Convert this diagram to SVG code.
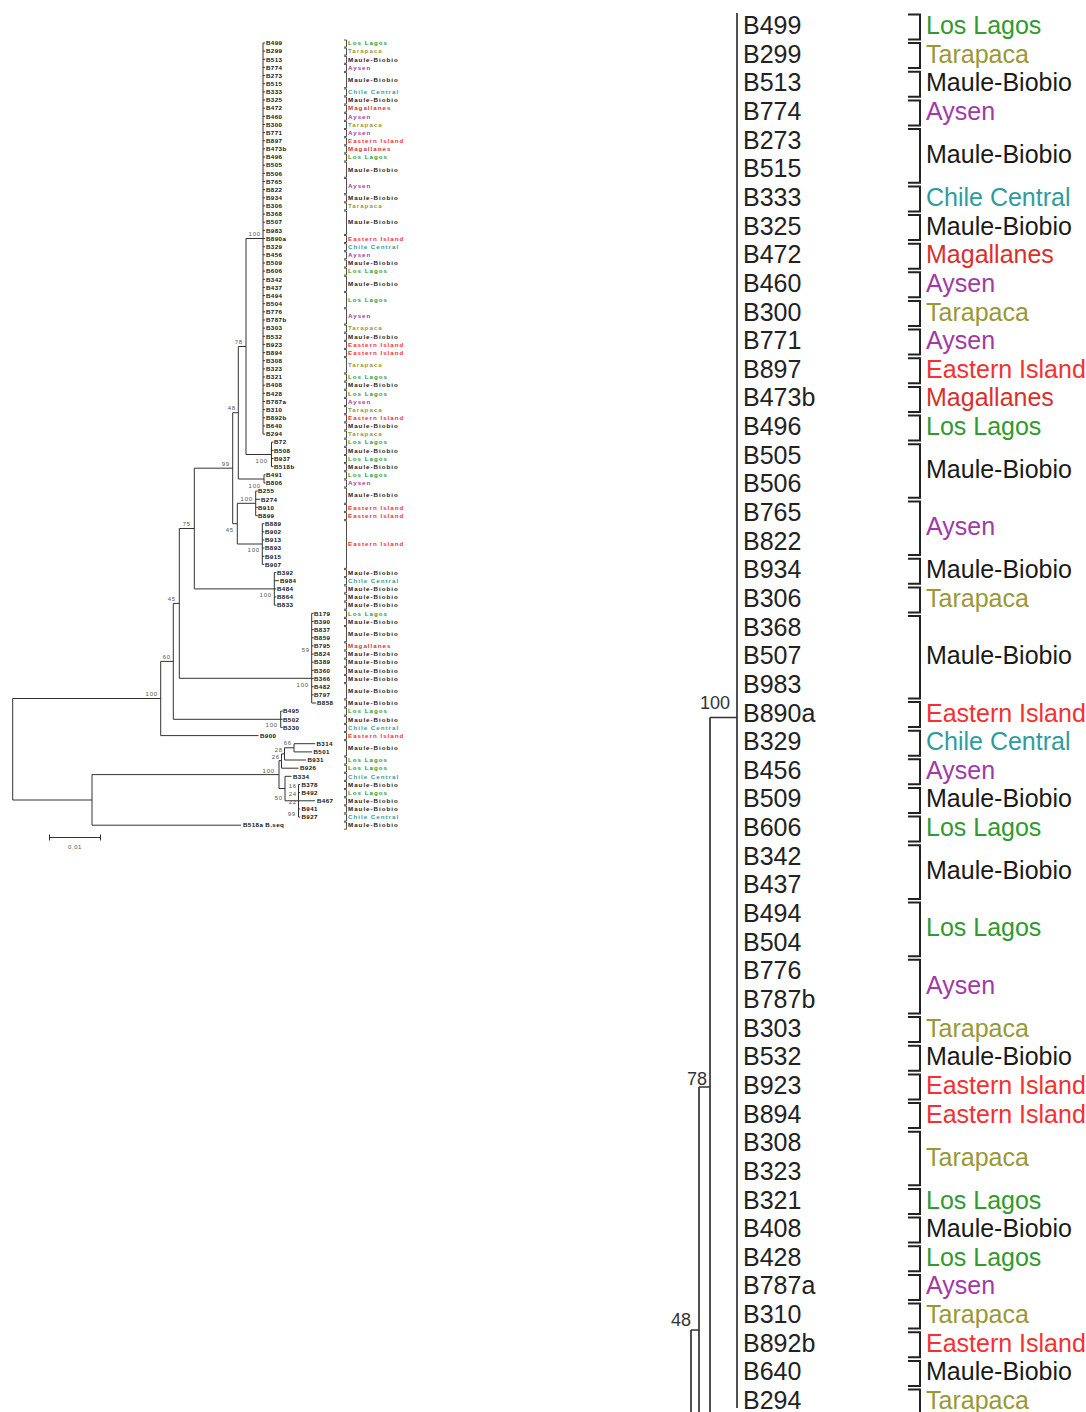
<svg xmlns="http://www.w3.org/2000/svg" width="1086" height="1412" viewBox="0 0 1086 1412">
<style>
text{font-family:"Liberation Sans",Arial,sans-serif}
.lt{font-size:6.2px;font-weight:bold;fill:#111;letter-spacing:.4px}
.lr{font-size:6.2px;font-weight:bold;letter-spacing:1px}
.bs{font-size:6px;fill:#555;letter-spacing:.8px;text-anchor:end}
.rt{font-size:25px;fill:#222}
.rr{font-size:25px}
.rb{font-size:18px;fill:#333;text-anchor:end}
.ln{stroke:#333;stroke-width:1;fill:none}
.lnR{stroke:#333;stroke-width:1.7;fill:none}
.bk{stroke:#222;stroke-width:.8;fill:none}
.bkR{stroke:#222;stroke-width:2;fill:none}
.LL{fill:#2f9a2f}.TA{fill:#999933}.MB{fill:#1a1a1a}.AY{fill:#a23aa6}.CC{fill:#2f9c9c}.MG{fill:#d9302c}.EI{fill:#f43030}
</style>
<rect width="1086" height="1412" fill="#fff"/>
<g id="connectors">
<path class="ln" d="M263,43V434.1M263,43h2M263,51.1h2M263,59.3h2M263,67.4h2M263,75.6h2M263,83.7h2M263,91.9h2M263,100h2M263,108.2h2M263,116.3h2M263,124.5h2M263,132.6h2M263,140.8h2M263,148.9h2M263,157h2M263,165.2h2M263,173.3h2M263,181.5h2M263,189.6h2M263,197.8h2M263,205.9h2M263,214.1h2M263,222.2h2M263,230.4h2M263,238.5h2M263,246.7h2M263,254.8h2M263,263h2M263,271.1h2M263,279.3h2M263,287.4h2M263,295.6h2M263,303.7h2M263,311.8h2M263,320h2M263,328.1h2M263,336.3h2M263,344.4h2M263,352.6h2M263,360.7h2M263,368.9h2M263,377h2M263,385.2h2M263,393.3h2M263,401.5h2M263,409.6h2M263,417.8h2M263,425.9h2M263,434.1h2
M246,238.5H263M246,454.5H271.5M246,238.5V454.5
M271.5,442.2V466.7M271.5,442.2h2M271.5,450.4h2M271.5,458.5h2M271.5,466.7h2
M238.3,346.5H246M238.3,479H264M238.3,346.5V479
M264,474.8V483M264,474.8h1.5M264,483h1.5
M232.7,412.7H238.3M232.7,523.7H237.3M232.7,412.7V523.7
M237.3,503.3H255.7M237.3,544H262.3M237.3,503.3V544
M255.7,491.1V515.6M255.7,491.1h2M255.7,499.3h4.5M255.7,507.4h2M255.7,515.6h2
M262.3,523.7V564.4M262.3,523.7h2M262.3,531.9h2M262.3,540h2M262.3,548.1h2M262.3,556.3h2M262.3,564.4h2
M194.3,468.2H232.7M194.3,588.9H274.3M194.3,468.2V588.9
M274.3,572.6V605.2M274.3,572.6h2M274.3,580.7h4.5M274.3,588.9h2M274.3,597h2M274.3,605.2h2
M179.3,528.5H194.3M179.3,678.3H311.7M179.3,528.5V678.3
M311.7,613.3V703M311.7,613.3h2M311.7,621.5h2M311.7,629.6h2M311.7,637.8h2M311.7,645.9h2M311.7,654.1h2M311.7,662.2h2M311.7,670.4h2M311.7,678.5h2M311.7,686.7h2M311.7,694.8h2M311.7,703h4.5
M173.3,603.4H179.3M173.3,719.3H280.7M173.3,603.4V719.3
M280.7,711.1V727.4M280.7,711.1h2M280.7,719.3h2M280.7,727.4h2
M160.7,661.4H173.3M160.7,735.6H258.5M160.7,661.4V735.6
M12.7,698.5H160.7M12.7,800H92M12.7,698.5V800
M92,774.6H279M92,825.2H241M92,774.6V825.2
M279,760.6H281.5M279,788.5H285M279,760.6V788.5
M281.5,753.9H284.5M281.5,768.2H298.5M281.5,753.9V768.2
M284.5,747.8H294M284.5,760H306M284.5,747.8V760
M294,743.7H315M294,751.9H312M294,743.7V751.9
M285,776.3H291.5M285,800.8H298.5M285,776.3V800.8
M298.5,784.5V817.1M298.5,784.5H300M298.5,792.6H300M298.5,800.8H315M298.5,808.9H300M298.5,817.1H300"/>
<path class="lnR" d="M737,13V1408M710,717.5H737M710,717.5V1412M699,1087H710M699,1087V1412M691,1330H699M691,1330V1412"/>
</g>
<g id="scale-bar">
<path class="ln" d="M49.5,837.5H100.5M49.5,834.5V840.5M100.5,834.5V840.5"/>
<text x="75" y="848.5" font-size="6px" fill="#555" text-anchor="middle" letter-spacing=".6">0,01</text>
</g>
<g id="bootstrap">
<text class="bs" x="261" y="236">100</text>
<text class="bs" x="243" y="344">78</text>
<text class="bs" x="236" y="410">48</text>
<text class="bs" x="230" y="466">99</text>
<text class="bs" x="234" y="532">45</text>
<text class="bs" x="268" y="463">100</text>
<text class="bs" x="261" y="488">100</text>
<text class="bs" x="253" y="500.5">100</text>
<text class="bs" x="260" y="551.5">100</text>
<text class="bs" x="191" y="526">75</text>
<text class="bs" x="272" y="597">100</text>
<text class="bs" x="176" y="601">45</text>
<text class="bs" x="171" y="658.5">60</text>
<text class="bs" x="310" y="651.5">59</text>
<text class="bs" x="309" y="686.5">100</text>
<text class="bs" x="158" y="696">100</text>
<text class="bs" x="278" y="727">100</text>
<text class="bs" x="275" y="772.5">100</text>
<text class="bs" x="292" y="745">66</text>
<text class="bs" x="283" y="751.5">28</text>
<text class="bs" x="280" y="758.5">26</text>
<text class="bs" x="283" y="799.5">50</text>
<text class="bs" x="297" y="787.5">16</text>
<text class="bs" x="297" y="796">24</text>
<text class="bs" x="297" y="804">22</text>
<text class="bs" x="296" y="816">99</text>
<text class="rb" x="730" y="709">100</text>
<text class="rb" x="707" y="1085">78</text>
<text class="rb" x="691" y="1326">48</text>
</g>
<g id="leaves">
<g id="n-B499"><text class="lt" x="266" y="45.2">B499</text><text class="rt" x="743" y="34">B499</text></g>
<g id="n-B299"><text class="lt" x="266" y="53.3">B299</text><text class="rt" x="743" y="62.6">B299</text></g>
<g id="n-B513"><text class="lt" x="266" y="61.5">B513</text><text class="rt" x="743" y="91.3">B513</text></g>
<g id="n-B774"><text class="lt" x="266" y="69.6">B774</text><text class="rt" x="743" y="119.9">B774</text></g>
<g id="n-B273"><text class="lt" x="266" y="77.8">B273</text><text class="rt" x="743" y="148.6">B273</text></g>
<g id="n-B515"><text class="lt" x="266" y="85.9">B515</text><text class="rt" x="743" y="177.2">B515</text></g>
<g id="n-B333"><text class="lt" x="266" y="94.1">B333</text><text class="rt" x="743" y="205.9">B333</text></g>
<g id="n-B325"><text class="lt" x="266" y="102.2">B325</text><text class="rt" x="743" y="234.5">B325</text></g>
<g id="n-B472"><text class="lt" x="266" y="110.4">B472</text><text class="rt" x="743" y="263.2">B472</text></g>
<g id="n-B460"><text class="lt" x="266" y="118.5">B460</text><text class="rt" x="743" y="291.8">B460</text></g>
<g id="n-B300"><text class="lt" x="266" y="126.7">B300</text><text class="rt" x="743" y="320.5">B300</text></g>
<g id="n-B771"><text class="lt" x="266" y="134.8">B771</text><text class="rt" x="743" y="349.1">B771</text></g>
<g id="n-B897"><text class="lt" x="266" y="143">B897</text><text class="rt" x="743" y="377.8">B897</text></g>
<g id="n-B473b"><text class="lt" x="266" y="151.1">B473b</text><text class="rt" x="743" y="406.4">B473b</text></g>
<g id="n-B496"><text class="lt" x="266" y="159.2">B496</text><text class="rt" x="743" y="435">B496</text></g>
<g id="n-B505"><text class="lt" x="266" y="167.4">B505</text><text class="rt" x="743" y="463.7">B505</text></g>
<g id="n-B506"><text class="lt" x="266" y="175.5">B506</text><text class="rt" x="743" y="492.3">B506</text></g>
<g id="n-B765"><text class="lt" x="266" y="183.7">B765</text><text class="rt" x="743" y="521">B765</text></g>
<g id="n-B822"><text class="lt" x="266" y="191.8">B822</text><text class="rt" x="743" y="549.6">B822</text></g>
<g id="n-B934"><text class="lt" x="266" y="200">B934</text><text class="rt" x="743" y="578.3">B934</text></g>
<g id="n-B306"><text class="lt" x="266" y="208.1">B306</text><text class="rt" x="743" y="606.9">B306</text></g>
<g id="n-B368"><text class="lt" x="266" y="216.3">B368</text><text class="rt" x="743" y="635.6">B368</text></g>
<g id="n-B507"><text class="lt" x="266" y="224.4">B507</text><text class="rt" x="743" y="664.2">B507</text></g>
<g id="n-B983"><text class="lt" x="266" y="232.6">B983</text><text class="rt" x="743" y="692.9">B983</text></g>
<g id="n-B890a"><text class="lt" x="266" y="240.7">B890a</text><text class="rt" x="743" y="721.5">B890a</text></g>
<g id="n-B329"><text class="lt" x="266" y="248.9">B329</text><text class="rt" x="743" y="750.2">B329</text></g>
<g id="n-B456"><text class="lt" x="266" y="257">B456</text><text class="rt" x="743" y="778.8">B456</text></g>
<g id="n-B509"><text class="lt" x="266" y="265.2">B509</text><text class="rt" x="743" y="807.4">B509</text></g>
<g id="n-B606"><text class="lt" x="266" y="273.3">B606</text><text class="rt" x="743" y="836.1">B606</text></g>
<g id="n-B342"><text class="lt" x="266" y="281.5">B342</text><text class="rt" x="743" y="864.7">B342</text></g>
<g id="n-B437"><text class="lt" x="266" y="289.6">B437</text><text class="rt" x="743" y="893.4">B437</text></g>
<g id="n-B494"><text class="lt" x="266" y="297.8">B494</text><text class="rt" x="743" y="922">B494</text></g>
<g id="n-B504"><text class="lt" x="266" y="305.9">B504</text><text class="rt" x="743" y="950.7">B504</text></g>
<g id="n-B776"><text class="lt" x="266" y="314">B776</text><text class="rt" x="743" y="979.3">B776</text></g>
<g id="n-B787b"><text class="lt" x="266" y="322.2">B787b</text><text class="rt" x="743" y="1008">B787b</text></g>
<g id="n-B303"><text class="lt" x="266" y="330.3">B303</text><text class="rt" x="743" y="1036.6">B303</text></g>
<g id="n-B532"><text class="lt" x="266" y="338.5">B532</text><text class="rt" x="743" y="1065.3">B532</text></g>
<g id="n-B923"><text class="lt" x="266" y="346.6">B923</text><text class="rt" x="743" y="1093.9">B923</text></g>
<g id="n-B894"><text class="lt" x="266" y="354.8">B894</text><text class="rt" x="743" y="1122.5">B894</text></g>
<g id="n-B308"><text class="lt" x="266" y="362.9">B308</text><text class="rt" x="743" y="1151.2">B308</text></g>
<g id="n-B323"><text class="lt" x="266" y="371.1">B323</text><text class="rt" x="743" y="1179.8">B323</text></g>
<g id="n-B321"><text class="lt" x="266" y="379.2">B321</text><text class="rt" x="743" y="1208.5">B321</text></g>
<g id="n-B408"><text class="lt" x="266" y="387.4">B408</text><text class="rt" x="743" y="1237.1">B408</text></g>
<g id="n-B428"><text class="lt" x="266" y="395.5">B428</text><text class="rt" x="743" y="1265.8">B428</text></g>
<g id="n-B787a"><text class="lt" x="266" y="403.7">B787a</text><text class="rt" x="743" y="1294.4">B787a</text></g>
<g id="n-B310"><text class="lt" x="266" y="411.8">B310</text><text class="rt" x="743" y="1323.1">B310</text></g>
<g id="n-B892b"><text class="lt" x="266" y="420">B892b</text><text class="rt" x="743" y="1351.7">B892b</text></g>
<g id="n-B640"><text class="lt" x="266" y="428.1">B640</text><text class="rt" x="743" y="1380.4">B640</text></g>
<g id="n-B294"><text class="lt" x="266" y="436.3">B294</text><text class="rt" x="743" y="1409">B294</text></g>
<g id="n-B72"><text class="lt" x="274" y="444.4">B72</text></g>
<g id="n-B508"><text class="lt" x="274" y="452.6">B508</text></g>
<g id="n-B937"><text class="lt" x="274" y="460.7">B937</text></g>
<g id="n-B518b"><text class="lt" x="274" y="468.9">B518b</text></g>
<g id="n-B491"><text class="lt" x="266" y="477">B491</text></g>
<g id="n-B806"><text class="lt" x="266" y="485.2">B806</text></g>
<g id="n-B255"><text class="lt" x="258" y="493.3">B255</text></g>
<g id="n-B274"><text class="lt" x="261" y="501.5">B274</text></g>
<g id="n-B910"><text class="lt" x="258" y="509.6">B910</text></g>
<g id="n-B899"><text class="lt" x="258" y="517.8">B899</text></g>
<g id="n-B889"><text class="lt" x="265" y="525.9">B889</text></g>
<g id="n-B902"><text class="lt" x="265" y="534.1">B902</text></g>
<g id="n-B913"><text class="lt" x="265" y="542.2">B913</text></g>
<g id="n-B893"><text class="lt" x="265" y="550.3">B893</text></g>
<g id="n-B915"><text class="lt" x="265" y="558.5">B915</text></g>
<g id="n-B907"><text class="lt" x="265" y="566.6">B907</text></g>
<g id="n-B392"><text class="lt" x="277" y="574.8">B392</text></g>
<g id="n-B984"><text class="lt" x="280" y="582.9">B984</text></g>
<g id="n-B484"><text class="lt" x="277" y="591.1">B484</text></g>
<g id="n-B864"><text class="lt" x="277" y="599.2">B864</text></g>
<g id="n-B833"><text class="lt" x="277" y="607.4">B833</text></g>
<g id="n-B179"><text class="lt" x="314" y="615.5">B179</text></g>
<g id="n-B390"><text class="lt" x="314" y="623.7">B390</text></g>
<g id="n-B837"><text class="lt" x="314" y="631.8">B837</text></g>
<g id="n-B859"><text class="lt" x="314" y="640">B859</text></g>
<g id="n-B795"><text class="lt" x="314" y="648.1">B795</text></g>
<g id="n-B824"><text class="lt" x="314" y="656.3">B824</text></g>
<g id="n-B389"><text class="lt" x="314" y="664.4">B389</text></g>
<g id="n-B360"><text class="lt" x="314" y="672.6">B360</text></g>
<g id="n-B366"><text class="lt" x="314" y="680.7">B366</text></g>
<g id="n-B482"><text class="lt" x="314" y="688.9">B482</text></g>
<g id="n-B797"><text class="lt" x="314" y="697">B797</text></g>
<g id="n-B858"><text class="lt" x="317" y="705.2">B858</text></g>
<g id="n-B495"><text class="lt" x="283" y="713.3">B495</text></g>
<g id="n-B502"><text class="lt" x="283" y="721.5">B502</text></g>
<g id="n-B330"><text class="lt" x="283" y="729.6">B330</text></g>
<g id="n-B900"><text class="lt" x="260" y="737.8">B900</text></g>
<g id="n-B314"><text class="lt" x="316.5" y="745.9">B314</text></g>
<g id="n-B501"><text class="lt" x="313.5" y="754.1">B501</text></g>
<g id="n-B931"><text class="lt" x="307.5" y="762.2">B931</text></g>
<g id="n-B926"><text class="lt" x="300" y="770.4">B926</text></g>
<g id="n-B334"><text class="lt" x="293" y="778.5">B334</text></g>
<g id="n-B378"><text class="lt" x="301.5" y="786.7">B378</text></g>
<g id="n-B492"><text class="lt" x="301.5" y="794.8">B492</text></g>
<g id="n-B467"><text class="lt" x="317" y="803">B467</text></g>
<g id="n-B941"><text class="lt" x="301.5" y="811.1">B941</text></g>
<g id="n-B927"><text class="lt" x="301.5" y="819.3">B927</text></g>
<g id="n-B518a"><text class="lt" x="243" y="827.4">B518a B.seq</text></g>
</g>
<g id="regions">
<path class="bk" d="M344,40H346.5V47H344M344,48.1H346.5V55.1H344M344,56.3H346.5V63.3H344M344,64.4H346.5V71.4H344M344,72.6H346.5V87.7H344M344,88.9H346.5V95.9H344M344,97H346.5V104H344M344,105.2H346.5V112.2H344M344,113.3H346.5V120.3H344M344,121.5H346.5V128.5H344M344,129.6H346.5V136.6H344M344,137.8H346.5V144.8H344M344,145.9H346.5V152.9H344M344,154H346.5V161H344M344,162.2H346.5V177.3H344M344,178.5H346.5V193.6H344M344,194.8H346.5V201.8H344M344,202.9H346.5V209.9H344M344,211.1H346.5V234.4H344M344,235.5H346.5V242.5H344M344,243.7H346.5V250.7H344M344,251.8H346.5V258.8H344M344,260H346.5V267H344M344,268.1H346.5V275.1H344M344,276.3H346.5V291.4H344M344,292.6H346.5V307.7H344M344,308.8H346.5V324H344M344,325.1H346.5V332.1H344M344,333.3H346.5V340.3H344M344,341.4H346.5V348.4H344M344,349.6H346.5V356.6H344M344,357.7H346.5V372.9H344M344,374H346.5V381H344M344,382.2H346.5V389.2H344M344,390.3H346.5V397.3H344M344,398.5H346.5V405.5H344M344,406.6H346.5V413.6H344M344,414.8H346.5V421.8H344M344,422.9H346.5V429.9H344M344,431.1H346.5V438.1H344M344,439.2H346.5V446.2H344M344,447.4H346.5V454.4H344M344,455.5H346.5V462.5H344M344,463.7H346.5V470.7H344M344,471.8H346.5V478.8H344M344,480H346.5V487H344M344,488.1H346.5V503.3H344M344,504.4H346.5V511.4H344M344,512.6H346.5V519.6H344M344,520.7H346.5V568.4H344M344,569.6H346.5V576.6H344M344,577.7H346.5V584.7H344M344,585.9H346.5V592.9H344M344,594H346.5V601H344M344,602.2H346.5V609.2H344M344,610.3H346.5V617.3H344M344,618.5H346.5V625.5H344M344,626.6H346.5V641.8H344M344,642.9H346.5V649.9H344M344,651.1H346.5V658.1H344M344,659.2H346.5V666.2H344M344,667.4H346.5V674.4H344M344,675.5H346.5V682.5H344M344,683.7H346.5V698.8H344M344,700H346.5V707H344M344,708.1H346.5V715.1H344M344,716.3H346.5V723.3H344M344,724.4H346.5V731.4H344M344,732.6H346.5V739.6H344M344,740.7H346.5V755.9H344M344,757H346.5V764H344M344,765.2H346.5V772.2H344M344,773.3H346.5V780.3H344M344,781.5H346.5V788.5H344M344,789.6H346.5V796.6H344M344,797.8H346.5V804.8H344M344,805.9H346.5V812.9H344M344,814.1H346.5V821.1H344M344,822.2H346.5V829.2H344"/>
<path class="bkR" d="M908,14.5H920V39.5H908M908,43.1H920V68.1H908M908,71.8H920V96.8H908M908,100.4H920V125.4H908M908,129.1H920V182.7H908M908,186.4H920V211.4H908M908,215H920V240H908M908,243.7H920V268.7H908M908,272.3H920V297.3H908M908,301H920V326H908M908,329.6H920V354.6H908M908,358.3H920V383.3H908M908,386.9H920V411.9H908M908,415.5H920V440.5H908M908,444.2H920V497.8H908M908,501.5H920V555.1H908M908,558.8H920V583.8H908M908,587.4H920V612.4H908M908,616.1H920V698.4H908M908,702H920V727H908M908,730.7H920V755.7H908M908,759.3H920V784.3H908M908,787.9H920V812.9H908M908,816.6H920V841.6H908M908,845.2H920V898.9H908M908,902.5H920V956.2H908M908,959.8H920V1013.5H908M908,1017.1H920V1042.1H908M908,1045.8H920V1070.8H908M908,1074.4H920V1099.4H908M908,1103H920V1128H908M908,1131.7H920V1185.3H908M908,1189H920V1214H908M908,1217.6H920V1242.6H908M908,1246.3H920V1271.3H908M908,1274.9H920V1299.9H908M908,1303.6H920V1328.6H908M908,1332.2H920V1357.2H908M908,1360.9H920V1385.9H908M908,1389.5H920V1414.5H908"/>
<g id="region-labels-left">
<text class="lr LL" x="348" y="45.2">Los Lagos</text>
<text class="lr TA" x="348" y="53.3">Tarapaca</text>
<text class="lr MB" x="348" y="61.5">Maule-Biobio</text>
<text class="lr AY" x="348" y="69.6">Aysen</text>
<text class="lr MB" x="348" y="81.9">Maule-Biobio</text>
<text class="lr CC" x="348" y="94.1">Chile Central</text>
<text class="lr MB" x="348" y="102.2">Maule-Biobio</text>
<text class="lr MG" x="348" y="110.4">Magallanes</text>
<text class="lr AY" x="348" y="118.5">Aysen</text>
<text class="lr TA" x="348" y="126.7">Tarapaca</text>
<text class="lr AY" x="348" y="134.8">Aysen</text>
<text class="lr EI" x="348" y="143">Eastern Island</text>
<text class="lr MG" x="348" y="151.1">Magallanes</text>
<text class="lr LL" x="348" y="159.2">Los Lagos</text>
<text class="lr MB" x="348" y="171.5">Maule-Biobio</text>
<text class="lr AY" x="348" y="187.8">Aysen</text>
<text class="lr MB" x="348" y="200">Maule-Biobio</text>
<text class="lr TA" x="348" y="208.1">Tarapaca</text>
<text class="lr MB" x="348" y="224.4">Maule-Biobio</text>
<text class="lr EI" x="348" y="240.7">Eastern Island</text>
<text class="lr CC" x="348" y="248.9">Chile Central</text>
<text class="lr AY" x="348" y="257">Aysen</text>
<text class="lr MB" x="348" y="265.2">Maule-Biobio</text>
<text class="lr LL" x="348" y="273.3">Los Lagos</text>
<text class="lr MB" x="348" y="285.6">Maule-Biobio</text>
<text class="lr LL" x="348" y="301.9">Los Lagos</text>
<text class="lr AY" x="348" y="318.1">Aysen</text>
<text class="lr TA" x="348" y="330.3">Tarapaca</text>
<text class="lr MB" x="348" y="338.5">Maule-Biobio</text>
<text class="lr EI" x="348" y="346.6">Eastern Island</text>
<text class="lr EI" x="348" y="354.8">Eastern Island</text>
<text class="lr TA" x="348" y="367">Tarapaca</text>
<text class="lr LL" x="348" y="379.2">Los Lagos</text>
<text class="lr MB" x="348" y="387.4">Maule-Biobio</text>
<text class="lr LL" x="348" y="395.5">Los Lagos</text>
<text class="lr AY" x="348" y="403.7">Aysen</text>
<text class="lr TA" x="348" y="411.8">Tarapaca</text>
<text class="lr EI" x="348" y="420">Eastern Island</text>
<text class="lr MB" x="348" y="428.1">Maule-Biobio</text>
<text class="lr TA" x="348" y="436.3">Tarapaca</text>
<text class="lr LL" x="348" y="444.4">Los Lagos</text>
<text class="lr MB" x="348" y="452.6">Maule-Biobio</text>
<text class="lr LL" x="348" y="460.7">Los Lagos</text>
<text class="lr MB" x="348" y="468.9">Maule-Biobio</text>
<text class="lr LL" x="348" y="477">Los Lagos</text>
<text class="lr AY" x="348" y="485.2">Aysen</text>
<text class="lr MB" x="348" y="497.4">Maule-Biobio</text>
<text class="lr EI" x="348" y="509.6">Eastern Island</text>
<text class="lr EI" x="348" y="517.8">Eastern Island</text>
<text class="lr EI" x="348" y="546.3">Eastern Island</text>
<text class="lr MB" x="348" y="574.8">Maule-Biobio</text>
<text class="lr CC" x="348" y="582.9">Chile Central</text>
<text class="lr MB" x="348" y="591.1">Maule-Biobio</text>
<text class="lr MB" x="348" y="599.2">Maule-Biobio</text>
<text class="lr MB" x="348" y="607.4">Maule-Biobio</text>
<text class="lr LL" x="348" y="615.5">Los Lagos</text>
<text class="lr MB" x="348" y="623.7">Maule-Biobio</text>
<text class="lr MB" x="348" y="635.9">Maule-Biobio</text>
<text class="lr MG" x="348" y="648.1">Magallanes</text>
<text class="lr MB" x="348" y="656.3">Maule-Biobio</text>
<text class="lr MB" x="348" y="664.4">Maule-Biobio</text>
<text class="lr MB" x="348" y="672.6">Maule-Biobio</text>
<text class="lr MB" x="348" y="680.7">Maule-Biobio</text>
<text class="lr MB" x="348" y="693">Maule-Biobio</text>
<text class="lr MB" x="348" y="705.2">Maule-Biobio</text>
<text class="lr LL" x="348" y="713.3">Los Lagos</text>
<text class="lr MB" x="348" y="721.5">Maule-Biobio</text>
<text class="lr CC" x="348" y="729.6">Chile Central</text>
<text class="lr EI" x="348" y="737.8">Eastern Island</text>
<text class="lr MB" x="348" y="750">Maule-Biobio</text>
<text class="lr LL" x="348" y="762.2">Los Lagos</text>
<text class="lr LL" x="348" y="770.4">Los Lagos</text>
<text class="lr CC" x="348" y="778.5">Chile Central</text>
<text class="lr MB" x="348" y="786.7">Maule-Biobio</text>
<text class="lr LL" x="348" y="794.8">Los Lagos</text>
<text class="lr MB" x="348" y="803">Maule-Biobio</text>
<text class="lr MB" x="348" y="811.1">Maule-Biobio</text>
<text class="lr CC" x="348" y="819.3">Chile Central</text>
<text class="lr MB" x="348" y="827.4">Maule-Biobio</text>
</g>
<g id="region-labels-right">
<text class="rr LL" x="926" y="34">Los Lagos</text>
<text class="rr TA" x="926" y="62.6">Tarapaca</text>
<text class="rr MB" x="926" y="91.3">Maule-Biobio</text>
<text class="rr AY" x="926" y="119.9">Aysen</text>
<text class="rr MB" x="926" y="162.9">Maule-Biobio</text>
<text class="rr CC" x="926" y="205.9">Chile Central</text>
<text class="rr MB" x="926" y="234.5">Maule-Biobio</text>
<text class="rr MG" x="926" y="263.2">Magallanes</text>
<text class="rr AY" x="926" y="291.8">Aysen</text>
<text class="rr TA" x="926" y="320.5">Tarapaca</text>
<text class="rr AY" x="926" y="349.1">Aysen</text>
<text class="rr EI" x="926" y="377.8">Eastern Island</text>
<text class="rr MG" x="926" y="406.4">Magallanes</text>
<text class="rr LL" x="926" y="435">Los Lagos</text>
<text class="rr MB" x="926" y="478">Maule-Biobio</text>
<text class="rr AY" x="926" y="535.3">Aysen</text>
<text class="rr MB" x="926" y="578.3">Maule-Biobio</text>
<text class="rr TA" x="926" y="606.9">Tarapaca</text>
<text class="rr MB" x="926" y="664.2">Maule-Biobio</text>
<text class="rr EI" x="926" y="721.5">Eastern Island</text>
<text class="rr CC" x="926" y="750.2">Chile Central</text>
<text class="rr AY" x="926" y="778.8">Aysen</text>
<text class="rr MB" x="926" y="807.4">Maule-Biobio</text>
<text class="rr LL" x="926" y="836.1">Los Lagos</text>
<text class="rr MB" x="926" y="879">Maule-Biobio</text>
<text class="rr LL" x="926" y="936.4">Los Lagos</text>
<text class="rr AY" x="926" y="993.7">Aysen</text>
<text class="rr TA" x="926" y="1036.6">Tarapaca</text>
<text class="rr MB" x="926" y="1065.3">Maule-Biobio</text>
<text class="rr EI" x="926" y="1093.9">Eastern Island</text>
<text class="rr EI" x="926" y="1122.5">Eastern Island</text>
<text class="rr TA" x="926" y="1165.5">Tarapaca</text>
<text class="rr LL" x="926" y="1208.5">Los Lagos</text>
<text class="rr MB" x="926" y="1237.1">Maule-Biobio</text>
<text class="rr LL" x="926" y="1265.8">Los Lagos</text>
<text class="rr AY" x="926" y="1294.4">Aysen</text>
<text class="rr TA" x="926" y="1323.1">Tarapaca</text>
<text class="rr EI" x="926" y="1351.7">Eastern Island</text>
<text class="rr MB" x="926" y="1380.4">Maule-Biobio</text>
<text class="rr TA" x="926" y="1409">Tarapaca</text>
</g>
</g>
</svg>
